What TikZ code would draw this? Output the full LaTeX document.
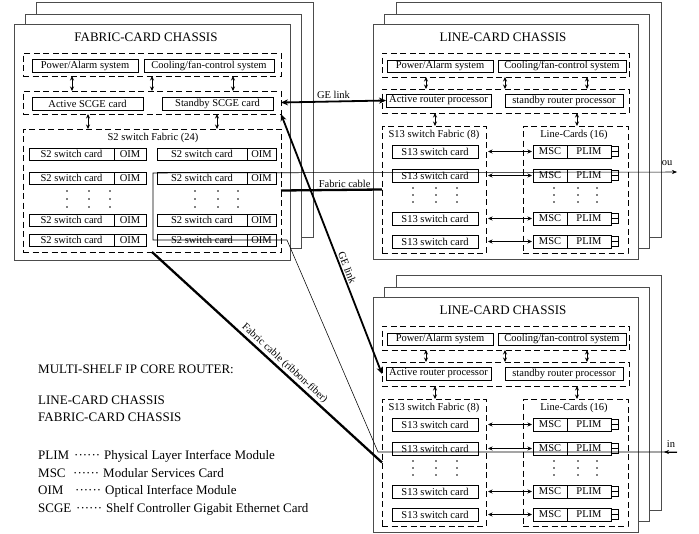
\documentclass[tikz,border=0pt]{standalone}
\usepackage{fontspec}
\setmainfont{Liberation Serif}
\usetikzlibrary{arrows.meta,calc}
\newcommand\boxfnt{\fontsize{10.5}{12}\selectfont}
\newcommand\bigfnt{\fontsize{13}{15}\selectfont}
\newcommand\rb[7]{\node[#1,inner sep=0pt,outer sep=0pt,minimum width={#5-#3},minimum height={#6-#4}] (#2) at ({(#3+#5)/2},{(#4+#6)/2}) {#7};}
\tikzset{
  chassis/.style={draw=black!70,line width=0.8pt,fill=white},
  cardbox/.style={draw=black,line width=0.6pt,fill=white,font=\boxfnt},
  dbox/.style={draw=black,line width=0.7pt,dash pattern=on 6pt off 3.5pt},
  smallarr/.style={{Stealth[length=4.5pt,width=4pt]}-{Stealth[length=4.5pt,width=4pt]},line width=1pt},
  bigarr/.style={{Stealth[length=7pt,width=6pt]}-{Stealth[length=7pt,width=6pt]},line width=1.8pt},
  cable/.style={line width=2.3pt},
  sig/.style={line width=0.55pt},
  lbl/.style={font=\boxfnt,inner sep=1.5pt},
  ctitle/.style={font=\bigfnt,inner sep=0pt,anchor=base},
  legend/.style={font=\bigfnt,inner sep=0pt,anchor=base west},
}
\newcommand\linechassis[2]{%
\begin{scope}[shift={(0,#2)}]
\rb{chassis}{#1b2}{396}{2}{661}{237}{}
\rb{chassis}{#1b1}{384}{14}{649}{248}{}
\rb{chassis}{#1fr}{373}{24}{638}{259}{}
\node[ctitle] (#1t) at (503,41) {LINE-CARD CHASSIS};
\rb{dbox}{#1d1}{382}{53}{629}{77}{}
\rb{cardbox}{#1pa}{387}{60}{493}{72}{Power/Alarm system}
\rb{cardbox}{#1cf}{498}{60}{626}{72}{Cooling/fan-control system}
\rb{dbox}{#1d2}{382}{89}{629}{113}{}
\rb{cardbox}{#1ap}{386}{94}{491}{107}{Active router processor}
\rb{cardbox}{#1sp}{505}{94}{623}{107}{standby router processor}
\rb{dbox}{#1sf}{382}{126}{486}{253}{}
\rb{dbox}{#1lc}{523}{126}{628}{253}{}
\node[lbl,inner sep=0pt] (#1sft) at (434,135) {S13 switch Fabric (8)};
\node[lbl,inner sep=0pt] (#1lct) at (574,135) {Line-Cards (16)};
\foreach \dx in {44,123,205} \draw[smallarr] ([xshift=\dx pt]#1d1.south west) -- ([xshift=\dx pt]#1d2.north west);
\draw[smallarr] ([xshift=53pt]#1d2.south west) -- ([xshift=53pt]#1sf.north west);
\draw[smallarr] ([xshift=195pt]#1d2.south west) -- ([xshift=54pt]#1lc.north west);
\foreach \i/\ya/\yb in {1/145/158,2/169/182,3/212/225,4/235/248}{
  \rb{cardbox}{#1s\i}{392}{\ya}{478}{\yb}{S13 switch card}
  \rb{cardbox}{#1m\i}{533}{\ya}{567}{\yb}{MSC}
  \rb{cardbox}{#1p\i}{567}{\ya}{611}{\yb}{PLIM}
  \draw[sig] ([yshift=-1.5pt]#1p\i.north east) rectangle ([xshift=7pt]#1p\i.east);
  \draw[sig] (#1p\i.east) rectangle ([xshift=7pt,yshift=1.5pt]#1p\i.south east);
  \draw[smallarr] ([xshift=10pt]#1s\i.east) -- ([xshift=-1pt]#1m\i.west);
}
\foreach \x in {413,436,457,554,578,597} \foreach \y in {188,195,202} \fill (\x,\y) circle (0.8pt);
\end{scope}}
\begin{document}
\begin{tikzpicture}[x=1pt,y=-1pt]
\useasboundingbox (0,0) rectangle (699,533);
\fill[white] (0,0) rectangle (699,533);
% ---------- fabric-card chassis
\rb{chassis}{F-b2}{36}{2}{313}{237}{}
\rb{chassis}{F-b1}{25}{14}{301}{248}{}
\rb{chassis}{F-fr}{14}{24}{290}{260}{}
\node[ctitle] (F-t) at (146,41) {FABRIC-CARD CHASSIS};
\rb{dbox}{F-d1}{23}{53}{281}{76}{}
\rb{cardbox}{F-pa}{32}{59}{138}{72}{Power/Alarm system}
\rb{cardbox}{F-cf}{144}{59}{274}{72}{Cooling/fan-control system}
\rb{dbox}{F-d2}{23}{91}{281}{114}{}
\rb{cardbox}{F-as}{32}{97}{143}{110}{Active SCGE card}
\rb{cardbox}{F-ss}{162}{97}{273}{110}{Standby SCGE card}
\rb{dbox}{F-d3}{23}{129}{281}{252}{}
\node[lbl,inner sep=0pt] (F-d3t) at (153,138) {S2 switch Fabric (24)};
\foreach \dx in {49,129,210} \draw[smallarr] ([xshift=\dx pt]F-d1.south west) -- ([xshift=\dx pt]F-d2.north west);
\foreach \dx in {65,194} \draw[smallarr] ([xshift=\dx pt]F-d2.south west) -- ([xshift=\dx pt]F-d3.north west);
\foreach \i/\ya/\yb in {1/148/160,2/172/184,3/214/226,4/234/246}{
  \rb{cardbox}{F-sa\i}{29}{\ya}{114}{\yb}{S2 switch card}
  \rb{cardbox}{F-oa\i}{114}{\ya}{146}{\yb}{OIM}
  \rb{cardbox}{F-sb\i}{157}{\ya}{247}{\yb}{S2 switch card}
  \rb{cardbox}{F-ob\i}{247}{\ya}{276}{\yb}{OIM}
}
\foreach \x in {67,89,110,195,218,238} \foreach \y in {191,199,207} \fill (\x,\y) circle (0.8pt);
% ---------- line-card chassis
\linechassis{LT-}{0}
\linechassis{LB-}{273}
% ---------- legend
\node[legend] (lg1) at (38,373) {MULTI-SHELF IP CORE ROUTER:};
\node[legend] (lg2) at (38,404) {LINE-CARD CHASSIS};
\node[legend] (lg3) at (38,421) {FABRIC-CARD CHASSIS};
\foreach \n/\a/\dx/\ex/\d/\y in {1/PLIM/74/104/Physical Layer Interface Module/459,
  2/MSC/73/103/Modular Services Card/477,
  3/OIM/75/105/Optical Interface Module/494,
  4/SCGE/76/106/Shelf Controller Gigabit Ethernet Card/512}{
  \node[legend] (ab\n) at (38,\y) {\a};
  \node[legend] (dt\n) at (\dx,\y) {······};
  \node[legend] (de\n) at (\ex,\y) {\d};
}
% ---------- signal path (in -> fabric -> out)
\coordinate (inR) at (677,452);
\coordinate (inA) at (664,452);
\coordinate (inL) at (378,452);
\coordinate (fbC) at (287,240);
\coordinate (fbL) at (153,240);
\coordinate (fbT) at (153,173);
\coordinate (ouR) at (677,172);
\draw[sig,-{Stealth[length=5pt,width=4pt]}] (inR) -- (inL) -- (fbC) -- (fbL) -- (fbT) -- (ouR);
\draw[sig,-{Stealth[length=5pt,width=4pt]}] (inR) -- (inA);
\node[lbl,inner sep=0pt] (ouLbl) at (667,163) {ou};
\node[lbl,inner sep=0pt] (inLbl) at (671,444) {in};
% ---------- cables and GE links
\draw[cable] (F-d3.east) -- node[lbl,above,pos=0.63] {Fabric cable} (LT-sf.west);
\draw[bigarr] (F-d2.east) -- node[lbl,above] {GE link} (LT-ap.west);
\draw[bigarr] (F-d2.south east) -- node[lbl,above,sloped,pos=0.6] {GE link} (LB-d2.west);
\draw[cable] (F-d3.south) -- node[lbl,above,sloped,pos=0.555] {Fabric cable (ribbon-fiber)} (LB-sf.west);
\end{tikzpicture}
\end{document}
